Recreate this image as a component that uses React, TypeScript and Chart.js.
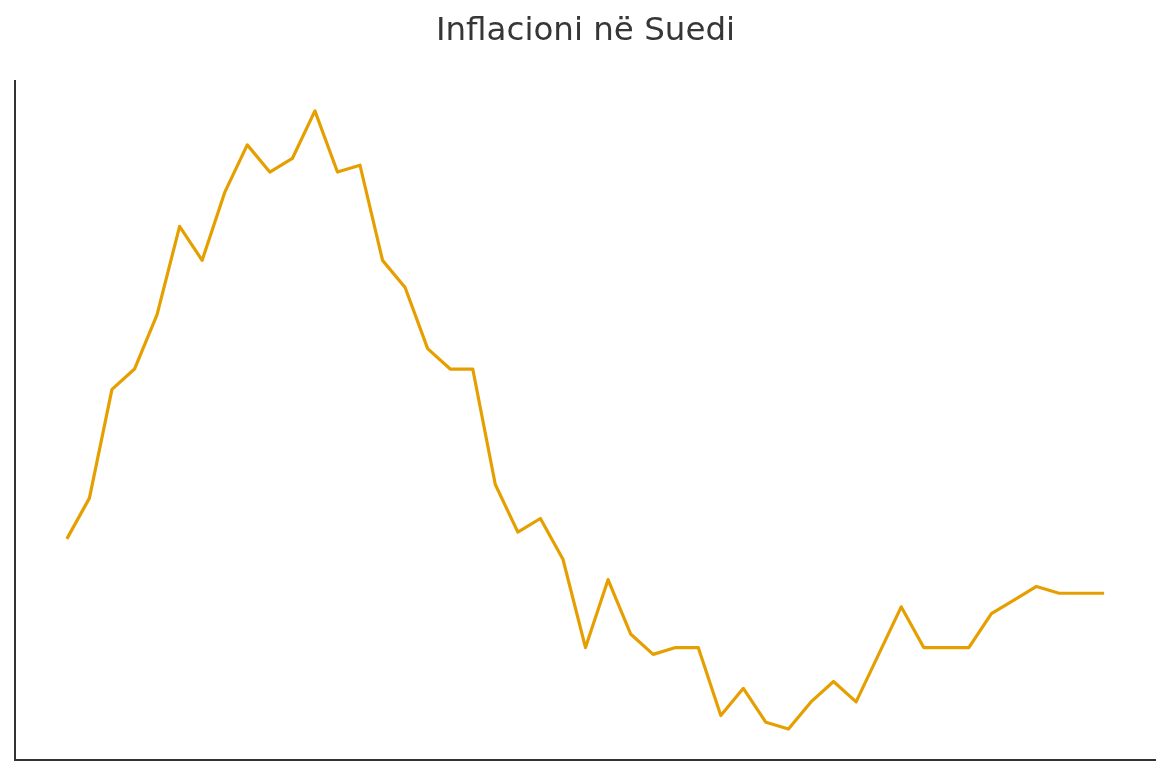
import React, { useEffect, useRef } from "react";
import { Chart, registerables } from "chart.js";

Chart.register(...registerables);

const TITLE = "Inflacioni në Suedi";

const MONTHS: string[] = [];
for (let y = 2022; y <= 2025; y++) {
  for (let m = 1; m <= 12; m++) {
    if (MONTHS.length < 47) MONTHS.push(`${y}-${String(m).padStart(2, "0")}`);
  }
}

const INFLATION = [
  3.9, 4.5, 6.1, 6.4, 7.2, 8.5, 8.0, 9.0, 9.7, 9.3, 9.5, 10.2,
  9.3, 9.4, 8.0, 7.6, 6.7, 6.4, 6.4, 4.7, 4.0, 4.2, 3.6, 2.3,
  3.3, 2.5, 2.2, 2.3, 2.3, 1.3, 1.7, 1.2, 1.1, 1.5, 1.8, 1.5,
  2.2, 2.9, 2.3, 2.3, 2.3, 2.8, 3.0, 3.2, 3.1, 3.1, 3.1,
];

const spinesPlugin = {
  id: "spines",
  afterDraw(chart: any) {
    const { ctx, chartArea } = chart;
    ctx.save();
    ctx.strokeStyle = "#333333";
    ctx.lineWidth = 2;
    ctx.beginPath();
    ctx.moveTo(chartArea.left, chartArea.top);
    ctx.lineTo(chartArea.left, chartArea.bottom);
    ctx.lineTo(chartArea.right, chartArea.bottom);
    ctx.stroke();
    ctx.restore();
  },
};

export default function App() {
  const ref = useRef<HTMLCanvasElement | null>(null);
  useEffect(() => {
    if (!ref.current) return;
    const n = INFLATION.length;
    const xMargin = (n - 1) * 0.05;
    const yMin = Math.min(...INFLATION);
    const yMax = Math.max(...INFLATION);
    const yMargin = (yMax - yMin) * 0.05;
    const chart = new Chart(ref.current, {
      type: "line",
      data: {
        labels: MONTHS,
        datasets: [
          {
            label: TITLE,
            data: INFLATION.map((v, i) => ({ x: i, y: v })),
            borderColor: "#E69F00",
            borderWidth: 3.2,
            pointRadius: 0,
            borderJoinStyle: "round",
            tension: 0,
            fill: false,
          },
        ],
      },
      options: {
        animation: false,
        responsive: false,
        layout: { padding: { left: 15, right: 14, top: 0, bottom: 15 } },
        plugins: {
          legend: { display: false },
          tooltip: { enabled: false },
          title: {
            display: true,
            text: TITLE,
            color: "#363636",
            font: { family: "DejaVu Sans", size: 32.5, weight: "normal", lineHeight: 1.2 },
            padding: { top: 12, bottom: 29 },
          },
        },
        scales: {
          x: {
            type: "linear",
            display: false,
            min: -xMargin,
            max: n - 1 + xMargin,
          },
          y: {
            display: false,
            min: yMin - yMargin,
            max: yMax + yMargin,
          },
        },
      },
      plugins: [spinesPlugin],
    });
    return () => chart.destroy();
  }, []);
  return (
    <div style={{ position: "fixed", left: 0, top: 0, width: 1170, height: 775, background: "#fff" }}>
      <canvas ref={ref} width={1170} height={775} />
    </div>
  );
}
